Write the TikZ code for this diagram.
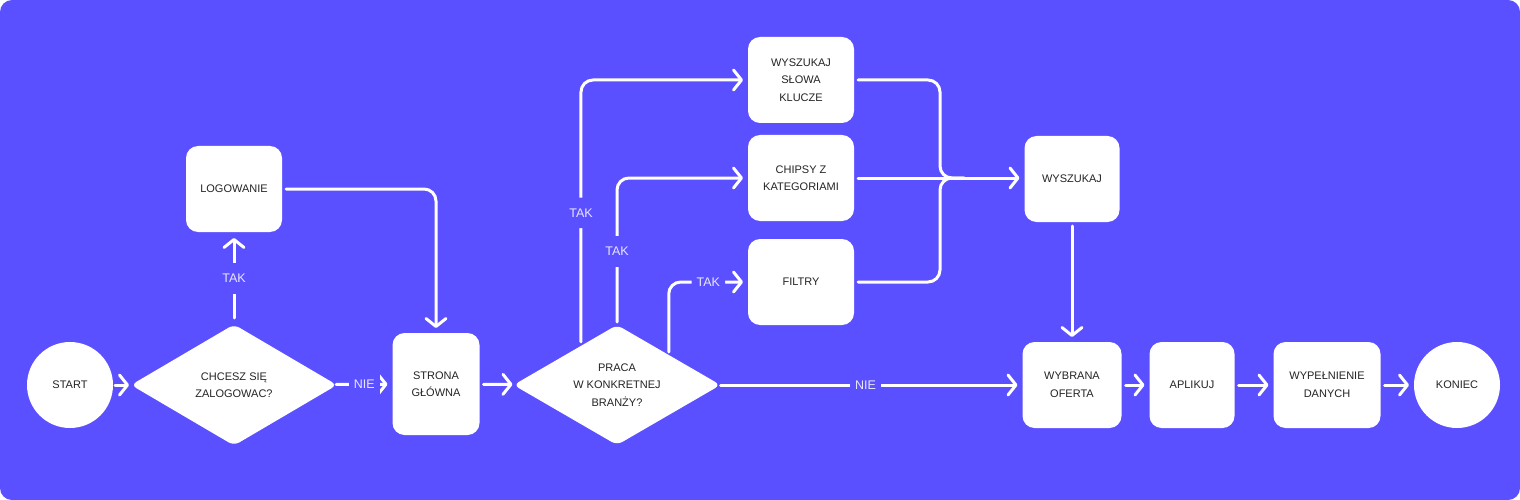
\documentclass[tikz,border=0pt]{standalone}
\usepackage{fontspec}
\setmainfont{Liberation Sans}
\usetikzlibrary{arrows.meta, positioning, shapes.geometric, calc}

\definecolor{bgviolet}{RGB}{91,80,255}
\definecolor{inkgray}{RGB}{36,36,36}
\definecolor{labelwhite}{RGB}{232,230,255}

\begin{document}
\begin{tikzpicture} [x=1pt, y=-1pt,
            node distance = 120pt,
            on grid,
            box/.style = {fill=white, rounded corners=12pt, align=center,
                text=inkgray, inner sep=0pt, outer sep=0pt,
                font=\fontsize{11}{17.5}\selectfont,
                minimum width=#1, minimum height=86pt},
            box/.default = 96pt,
            terminal/.style = {circle, fill=white, minimum size=86pt,
                text=inkgray, inner sep=0pt, outer sep=0pt,
                font=\fontsize{11}{17.5}\selectfont},
            decision/.style = {diamond, fill=white, rounded corners=6pt,
                minimum width=206pt, minimum height=121pt, aspect=1.7,
                align=center, text=inkgray, inner sep=0pt, outer sep=0pt,
                font=\fontsize{11}{17.5}\selectfont},
            flow/.style = {draw=white, line width=3pt, line cap=round,
                -{Straight Barb[length=8pt, width=20pt, line cap=round, line join=round]},
                shorten >=5pt, shorten <=4pt},
            wire/.style = {draw=white, line width=3pt, line cap=round,
                shorten <=4pt},
            lab/.style = {fill=bgviolet, text=labelwhite, inner xsep=5pt,
                inner ysep=11pt, font=\fontsize{12.5}{15}\selectfont}]

            % Background
            \fill [bgviolet, rounded corners=12pt] (0,0) rectangle (1520,500);
            \useasboundingbox (0,0) rectangle (1520,500);

            % Start
            \node (start) [terminal] at (70,385) {START};

            % Decision: log in?
            \node (login) [decision] at (234,385) {CHCESZ SIĘ\\ZALOGOWAC?};

            % Log in
            \node (logowanie) [box] at (234,189) {LOGOWANIE};

            % Home page
            \node (strona) [box=87pt, minimum height=102pt] at (436,384) {STRONA\\GŁÓWNA};

            % Decision: branch?
            \node (branza) [decision, minimum width=207pt, minimum height=120pt]
                at (617,385) {PRACA\\W KONKRETNEJ\\BRANŻY?};

            % Search options
            \node (slowa) [box=106pt] at (801,80) {WYSZUKAJ\\SŁOWA\\KLUCZE};
            \node (chipsy) [box=106pt] at (801,178) {CHIPSY Z\\KATEGORIAMI};
            \node (filtry) [box=106pt] at (801,282) {FILTRY};

            % Search
            \node (wyszukaj) [box=95pt] at (1072,179) {WYSZUKAJ};

            % Chosen offer and the rest
            \node (oferta) [box=99pt] at (1072,385) {WYBRANA\\OFERTA};
            \node (aplikuj) [box=85pt, right = of oferta] {APLIKUJ};
            \node (dane) [box=107pt, right = 135pt of aplikuj] {WYPEŁNIENIE\\DANYCH};
            \node (koniec) [terminal, right = 130pt of dane] {KONIEC};

            % Merge point
            \coordinate (merge) at ([xshift=86pt]chipsy.east);
            \coordinate (mergeout) at ([xshift=24pt]merge);
            \coordinate (branzaleft) at ($(branza.west)!0.652!(branza.north)$);

            % Arrows
            \path [flow]
                (start) edge [shorten <=2pt, shorten >=2pt] (login)
                (login) edge [shorten <=0pt] node [lab] {NIE} (strona)
                (login) edge [shorten <=6.5pt, shorten >=6pt] node [lab] {TAK} (logowanie)
                (strona) edge [shorten >=2pt] (branza)
                (branza) edge [shorten <=0pt] node [lab, pos=0.48] {NIE} (oferta)
                (chipsy) edge (chipsy.east -| wyszukaj.west)
                (wyszukaj) edge (oferta)
                (oferta) edge (aplikuj)
                (aplikuj) edge (dane)
                (dane) edge (koniec);

            \draw [flow, rounded corners=12pt] (logowanie) -| (strona);
            \draw [flow, rounded corners=12pt] (branzaleft) |- node [lab, pos=0.25] {TAK} (slowa);
            \draw [flow, rounded corners=12pt, shorten <=3pt] (branza.north) |- node [lab, pos=0.25] {TAK} (chipsy);
            \draw [flow, rounded corners=12pt, shorten <=3pt] (branza.north east) |- node [lab, pos=0.75] {TAK} (filtry);

            \draw [wire, rounded corners=12pt] (slowa) -| (merge) -- (mergeout);
            \draw [wire, rounded corners=12pt] (filtry) -| (merge) -- (mergeout);
        \end{tikzpicture}
\end{document}
